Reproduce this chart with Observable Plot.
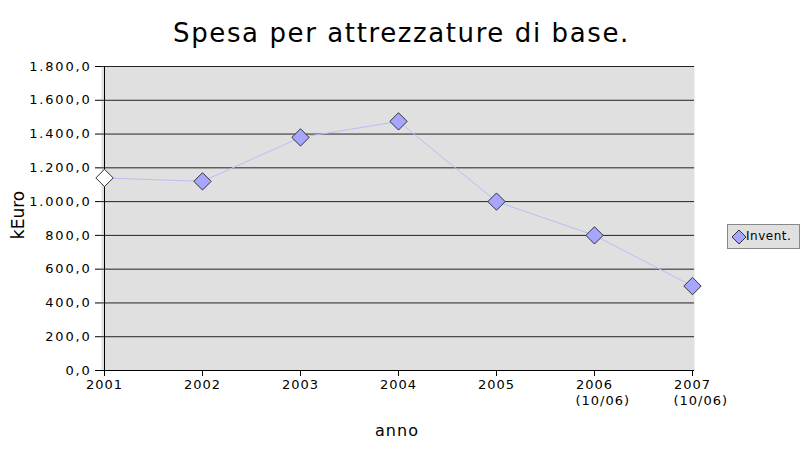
<!DOCTYPE html>
<html>
<head>
<meta charset="utf-8">
<script src="https://cdn.jsdelivr.net/npm/d3@7"></script>
<script src="https://cdn.jsdelivr.net/npm/@observablehq/plot@0.6"></script>
<style>
  html, body { margin: 0; padding: 0; background: #fff; }
  #wrap { position: relative; width: 803px; height: 463px; font-family: "DejaVu Sans", sans-serif; }
  #wrap svg { position: absolute; left: 0; top: 0; }
  .ov { position: absolute; color: #000; white-space: nowrap; }
  #title { left: 0; width: 803px; top: 18px; text-align: center; font-size: 26px; letter-spacing: 1.6px; }
  #ylab { left: 18px; top: 215px; font-size: 17px; transform: translate(-50%, -50%) rotate(-90deg); }
  #xlab { left: 397px; top: 430px; font-size: 16px; letter-spacing: 1px; transform: translate(-50%, -50%); }
  #legend { left: 727px; top: 224px; width: 73px; height: 25px; box-sizing: border-box; border: 1px solid #888; background: #e0e0e0; font-size: 12px; letter-spacing: 0.5px; }
  #legend svg { position: absolute; left: 3px; top: 4px; }
  #legend span { position: absolute; left: 18px; top: 4px; }
  .yax text { letter-spacing: 1.8px; }
</style>
</head>
<body>
<div id="wrap">
  <div id="chart"></div>
  <div class="ov" id="title">Spesa per attrezzature di base.</div>
  <div class="ov" id="ylab">kEuro</div>
  <div class="ov" id="xlab">anno</div>
  <div class="ov" id="legend"><svg width="16" height="16"><path d="M8,1 L15,8 L8,15 L1,8 Z" fill="#a6a6ff" stroke="#333" stroke-width="1"/></svg><span>Invent.</span></div>
</div>
<script>
const years = ["2001", "2002", "2003", "2004", "2005", "2006", "2007"];
const subLabels = ["", "", "", "", "", "(10/06)", "(10/06)"];
const invent = [1140, 1120, 1380, 1475, 1000, 800, 500];
const pointFill = ["#ffffff", "#a6a6ff", "#a6a6ff", "#a6a6ff", "#a6a6ff", "#a6a6ff", "#a6a6ff"];
const yTicks = [0, 200, 400, 600, 800, 1000, 1200, 1400, 1600, 1800];

const data = years.map((y, i) => ({year: y, value: invent[i], sub: subLabels[i], fill: pointFill[i]}));
const it = d3.formatLocale({decimal: ",", thousands: ".", grouping: [3], currency: ["", "€"]});
const fmt = it.format(",.1f");

const chart = Plot.plot({
  width: 803,
  height: 463,
  marginLeft: 101,
  marginRight: 109,
  marginTop: 66,
  marginBottom: 93,
  style: {fontFamily: "DejaVu Sans, sans-serif", fontSize: "13px", background: "transparent", letterSpacing: "1px"},
  x: {type: "point", domain: years, padding: 0},
  y: {domain: [0, 1800]},
  marks: [
    Plot.frame({fill: "#e0e0e0", stroke: null}),
    Plot.ruleY(yTicks.filter(d => d > 0), {stroke: "#222", strokeWidth: 1}),
    Plot.ruleY([0], {stroke: "#000", strokeWidth: 1}),
    Plot.ruleX([years[0]], {stroke: "#000", strokeWidth: 1}),
    Plot.axisY({ticks: yTicks, tickFormat: fmt, tickSize: 6, tickPadding: 4, label: null, fill: "#000", stroke: "#000", fontSize: 13, className: "yax"}),
    Plot.axisX({tickSize: 6, tickPadding: 3, label: null, fill: "#000", stroke: "#000", fontSize: 13}),
    Plot.text(data.filter(d => d.sub), {x: "year", y: () => 0, text: "sub", textAnchor: "start", dx: -19, dy: 30, fill: "#000", fontSize: 13}),
    Plot.line(data, {x: "year", y: "value", stroke: "#bcbcf8", strokeWidth: 1}),
    Plot.dot(data, {x: "year", y: "value", symbol: "diamond2", r: 7.8, fill: d => d.fill, stroke: "#333", strokeWidth: 1})
  ]
});
document.getElementById("chart").appendChild(chart);
</script>
</body>
</html>
